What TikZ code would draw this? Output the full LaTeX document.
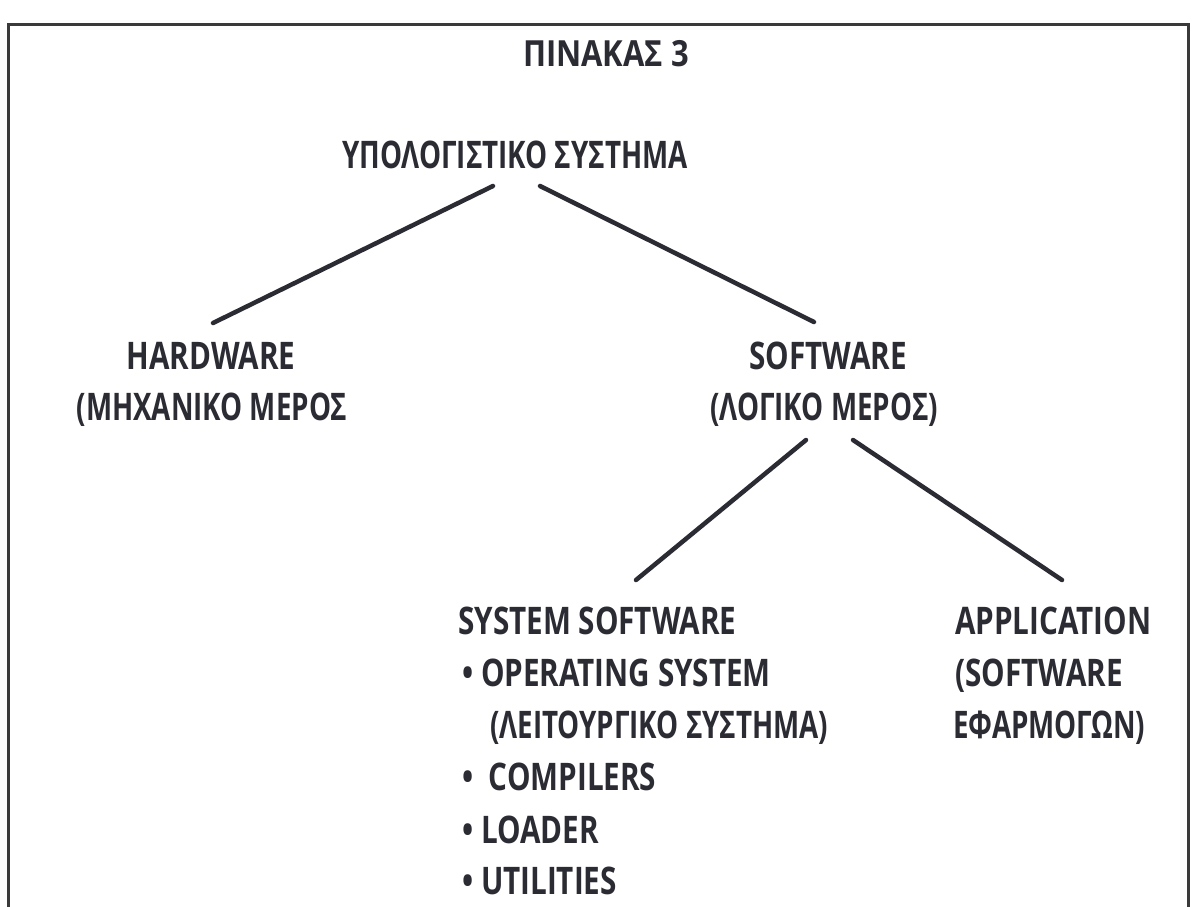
\documentclass[tikz,border=0pt]{standalone}
\usepackage{fontspec}
\setmainfont{Open Sans}[FakeStretch=0.78]
\newfontfamily\grk{Open Sans}[FakeStretch=0.73]
\newfontfamily\ttl{Open Sans}[FakeStretch=0.86]
\definecolor{ink}{HTML}{2B2B33}
\definecolor{frame}{HTML}{3A3A3A}
\begin{document}
\begin{tikzpicture}[x=1pt,y=-1pt,
  lbl/.style={inner sep=0pt,text=ink,font=\fontsize{38}{46}\selectfont\bfseries},
  glbl/.style={lbl,font=\fontsize{38}{46}\grk\bfseries},
  conn/.style={line width=4.5pt,color=ink,line cap=round}]
\useasboundingbox[fill=white] (0,0) rectangle (1197,906);
% frame
\draw[line width=3pt,color=frame] (8,910) -- (8,24) -- (1188,24) -- (1188,910);
% texts
\node[lbl,font=\fontsize{36}{44}\ttl\bfseries,anchor=base] (title) at (606,66) {ΠΙΝΑΚΑΣ 3};
\node[glbl,anchor=base] (sys) at (515,168) {ΥΠΟΛΟΓΙΣΤΙΚΟ ΣΥΣΤΗΜΑ};
\node[lbl,anchor=base] (hw) at (211,369) {HARDWARE};
\node[glbl,anchor=base] (hw2) at (212,420) {(ΜΗΧΑΝΙΚΟ ΜΕΡΟΣ};
\node[lbl,anchor=base] (sw) at (828,369) {SOFTWARE};
\node[glbl,anchor=base] (sw2) at (824,420) {(ΛΟΓΙΚΟ ΜΕΡΟΣ)};
\node[lbl,anchor=base west] (ss) at (458,634) {SYSTEM SOFTWARE};
\node[lbl,anchor=base west] (os) at (462,686) {• OPERATING SYSTEM};
\node[glbl,anchor=base west] (os2) at (490,738) {(ΛΕΙΤΟΥΡΓΙΚΟ ΣΥΣΤΗΜΑ)};
\node[lbl,anchor=base west] (cp) at (462,790) {•\ \ COMPILERS};
\node[lbl,anchor=base west] (ld) at (462,843) {• LOADER};
\node[lbl,anchor=base west] (ut) at (462,894) {• UTILITIES};
\node[lbl,anchor=base west] (ap) at (955,634) {APPLICATION};
\node[lbl,anchor=base west] (ap2) at (955,686) {(SOFTWARE};
\node[glbl,anchor=base west] (ap3) at (953,738) {ΕΦΑΡΜΟΓΩΝ)};
% connector ends
\coordinate (sysL) at (493,186);
\coordinate (sysR) at (540,186);
\coordinate (hwT) at (213,323);
\coordinate (swT) at (814,322);
\coordinate (swL) at (806,440);
\coordinate (swR) at (853,440);
\coordinate (ssT) at (636,580);
\coordinate (apT) at (1062,580);
\draw[conn] (sysL) -- (hwT);
\draw[conn] (sysR) -- (swT);
\draw[conn] (swL) -- (ssT);
\draw[conn] (swR) -- (apT);
\end{tikzpicture}
\end{document}
